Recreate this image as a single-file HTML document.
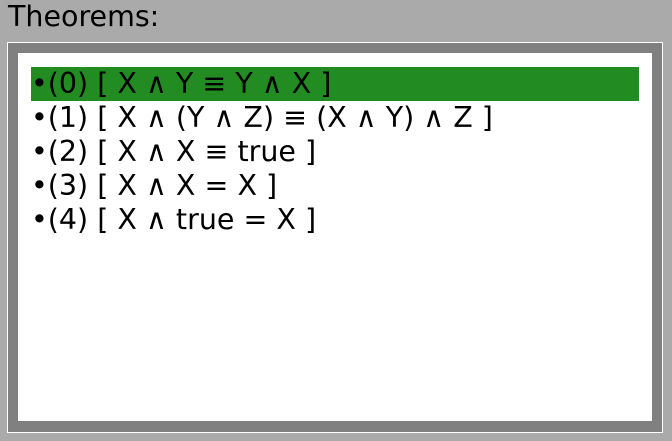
<!DOCTYPE html>
<html><head><style>
body{margin:0;width:672px;height:441px;background:#aaaaaa;position:relative;overflow:hidden;font-family:"DejaVu Sans",sans-serif;}
.t{position:absolute;left:8px;top:0px;font-size:28.5px;line-height:34px;color:#000;}
.outer{position:absolute;left:7px;top:42px;width:656px;height:391px;box-sizing:border-box;border:1px solid #fff;background:#808080;}
.inner{position:absolute;left:18px;top:53px;width:634px;height:368px;background:#fff;}
.l{position:absolute;left:31px;font-size:28.5px;line-height:34px;white-space:pre;color:#000;}
.sel{background:#228b22;width:608px;}
</style></head><body>
<div class="t">Theorems:</div>
<div class="outer"></div>
<div class="inner"></div>
<div class="l sel" style="top:67px">•(0) [ X ∧ Y ≡ Y ∧ X ]</div>
<div class="l" style="top:101px">•(1) [ X ∧ (Y ∧ Z) ≡ (X ∧ Y) ∧ Z ]</div>
<div class="l" style="top:135px">•(2) [ X ∧ X ≡ true ]</div>
<div class="l" style="top:169px">•(3) [ X ∧ X = X ]</div>
<div class="l" style="top:203px">•(4) [ X ∧ true = X ]</div>
</body></html>
